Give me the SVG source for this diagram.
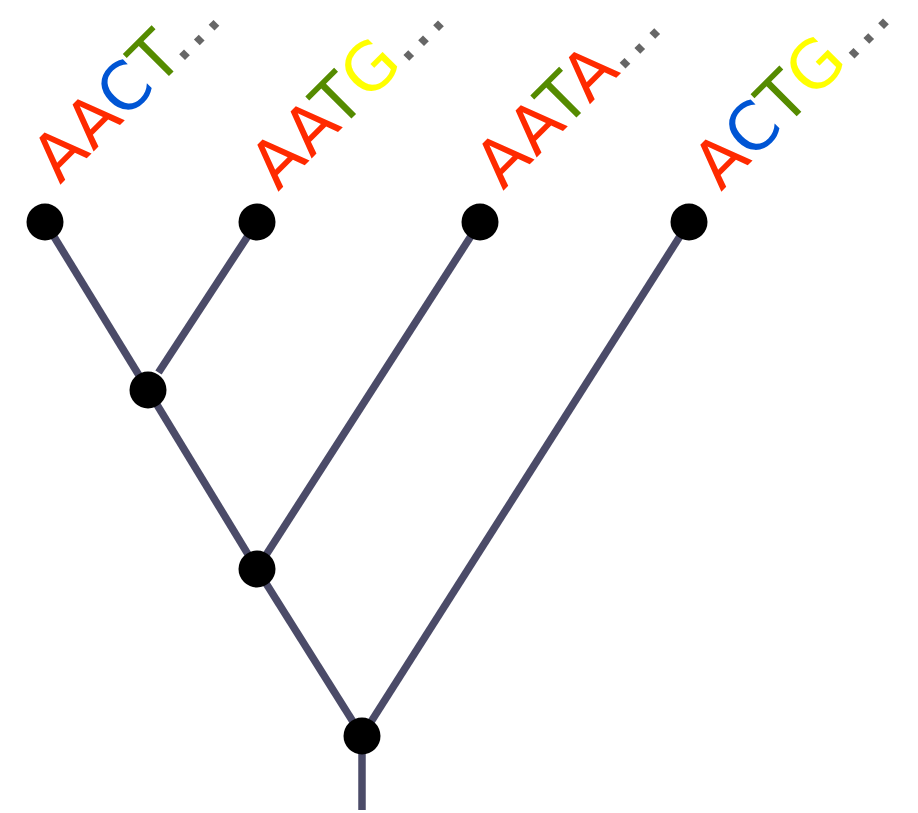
<svg xmlns="http://www.w3.org/2000/svg" width="918" height="813" viewBox="0 0 918 813">
  <style>
    .edge { stroke: #4b4b68; stroke-width: 7.5; stroke-linecap: butt; fill: none; }
    .node { fill: #000000; }
    .seq { font-family: "DejaVu Sans", sans-serif; font-size: 66px; }
    .a { fill: #ff2a00; }
    .c { fill: #0055d4; }
    .t { fill: #558b00; }
    .g { fill: #ffff00; }
    .dots { fill: #666666; }
  </style>
  <rect width="918" height="813" fill="#ffffff"/>

  <!-- branches -->
  <g id="edges">
    <line class="edge" x1="45" y1="222" x2="148" y2="390"/>
    <line class="edge" x1="257" y1="222" x2="158.5" y2="372.5"/>
    <line class="edge" x1="148" y1="390" x2="257" y2="569"/>
    <line class="edge" x1="480" y1="222" x2="257" y2="569"/>
    <line class="edge" x1="257" y1="569" x2="362" y2="736"/>
    <line class="edge" x1="689" y1="222" x2="362" y2="736"/>
    <line class="edge" x1="362" y1="736" x2="362" y2="810"/>
  </g>

  <!-- leaves -->
  <g id="leaf1">
    <circle class="node" cx="45" cy="222" r="18.5"/>
    <text class="seq" transform="translate(60,185) rotate(-45)"><tspan class="a">AA</tspan><tspan class="c">C</tspan><tspan class="t">T</tspan><tspan class="dots">...</tspan></text>
  </g>
  <g id="leaf2">
    <circle class="node" cx="257" cy="222" r="18.5"/>
    <text class="seq" transform="translate(278,192) rotate(-45)"><tspan class="a">AA</tspan><tspan class="t">T</tspan><tspan class="g">G</tspan><tspan class="dots">...</tspan></text>
  </g>
  <g id="leaf3">
    <circle class="node" cx="480" cy="222" r="18.5"/>
    <text class="seq" transform="translate(503,191) rotate(-45)"><tspan class="a">AA</tspan><tspan class="t">T</tspan><tspan class="a">A</tspan><tspan class="dots">...</tspan></text>
  </g>
  <g id="leaf4">
    <circle class="node" cx="689" cy="222" r="18.5"/>
    <text class="seq" transform="translate(721,192) rotate(-45)"><tspan class="a">A</tspan><tspan class="c">C</tspan><tspan class="t">T</tspan><tspan class="g">G</tspan><tspan class="dots">...</tspan></text>
  </g>

  <!-- internal nodes -->
  <g id="n1"><circle class="node" cx="148" cy="390" r="18.5"/></g>
  <g id="n2"><circle class="node" cx="257" cy="569" r="18.5"/></g>
  <g id="root"><circle class="node" cx="362" cy="736" r="18.5"/></g>
</svg>
